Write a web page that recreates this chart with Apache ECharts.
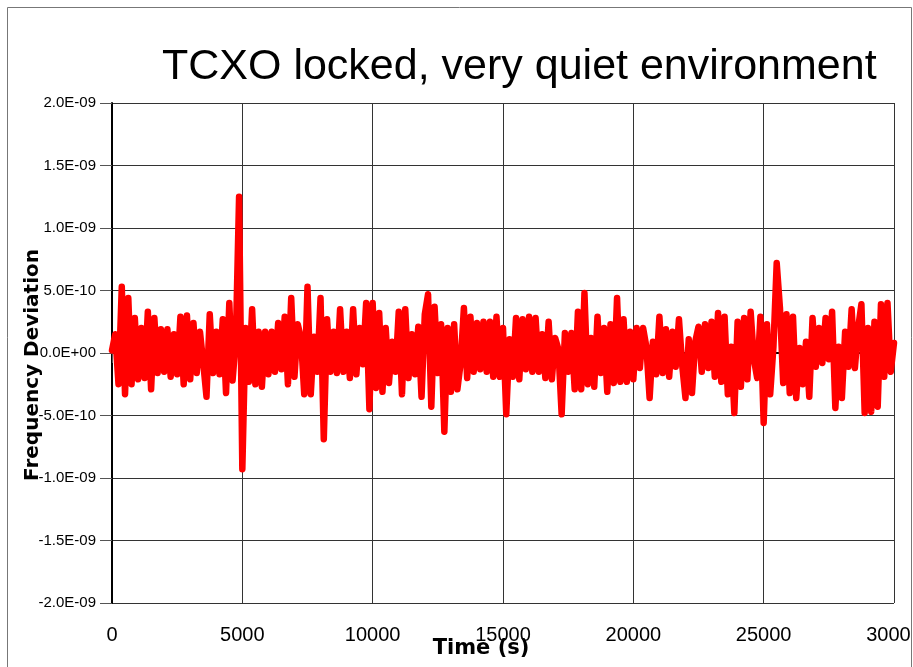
<!DOCTYPE html>
<html>
<head>
<meta charset="utf-8">
<script src="https://cdn.jsdelivr.net/npm/echarts@6/dist/echarts.min.js"></script>
<style>
  html, body { margin: 0; padding: 0; background: #fff; }
  #chart { width: 913px; height: 667px; }
</style>
</head>
<body>
<div id="chart"></div>
<script>
// sample spacing of the record, seconds
const SAMPLE_STEP = 125;
// values in units of 1e-10 (fractional frequency)
const UNIT = 1e-10;

// 0 - 4875 s
const seg0 = [0.2, 1.5, -2.5, 5.3, -3.3, 4.4, -2.5, 2.8, -2.1, 2.0,
              -2.0, 3.3, -2.9, 2.8, -1.6, 1.9, -1.5, 1.9, -1.9, 1.5,
              -1.7, 2.9, -2.5, 3.0, -2.1, 2.4, -1.6, 1.7, -0.8, -3.5,
              3.1, -1.6, 1.7, -1.7, 2.7, -3.2, 4.0, -2.2, 1.0, 12.5];
// 5000 - 9875 s
const seg1 = [-9.3, 2.0, -2.3, 3.5, -2.5, 1.7, -2.7, 1.7, -1.7, 1.7,
              -1.5, 2.4, -1.3, 2.9, -2.5, 4.4, -1.9, 2.3, 1.2, -3.3,
              5.3, -3.3, 1.3, -1.5, 4.4, -6.9, 2.7, -1.5, 1.7, -1.6,
              3.5, -1.5, 1.7, -2.0, 3.5, -1.7, 2.0, -0.9, 4.0, -4.5];
// 10000 - 14875 s
const seg2 = [4.0, -2.8, 3.2, -3.1, 2.0, -2.4, 0.9, -1.5, 3.3, -3.3,
              3.5, -2.0, 1.5, -1.7, 2.1, -3.5, 3.1, 4.7, -4.3, 3.7,
              -1.6, 2.3, -6.3, 2.0, -3.1, 2.3, -2.9, -0.8, 3.6, -2.0,
              2.9, -1.5, 2.4, -1.3, 2.5, -1.5, 2.5, -1.9, 2.9, -1.9];
// 15000 - 19875 s
const seg3 = [2.0, -4.9, 1.1, -1.9, 2.8, -2.1, 2.7, -1.3, 2.9, -1.5,
              2.8, -1.5, 1.5, -2.0, 2.5, -2.1, 1.2, 0.3, -4.9, 1.6,
              -1.5, 1.6, -2.9, 3.3, -2.9, 4.8, -2.5, 1.2, -2.7, 2.9,
              -1.6, 2.0, -3.1, 2.3, -2.4, 4.4, -2.3, 2.7, -2.3, 1.7];
// 20000 - 24875 s
const seg4 = [-2.1, 2.0, -1.2, 2.0, 0.5, -3.6, 0.9, -1.7, 2.9, -1.6,
              1.9, -1.9, 1.7, -1.1, 2.7, -1.0, -3.6, 1.1, -3.2, 0.9,
              2.1, -1.5, 2.3, -1.2, 2.5, -1.9, 3.2, -2.3, 2.9, -3.3,
              0.5, -4.8, 2.5, -2.7, 2.8, -2.1, 3.3, -0.5, -2.0, 2.9];
// 25000 - 30000 s
const seg5 = [-5.6, 2.3, -3.3, 0.5, 7.2, 3.6, -2.4, 3.1, -3.2, 2.9,
              -3.6, 0.4, -2.5, 0.9, -3.5, 2.8, -1.1, 2.0, -0.8, 2.8,
              -0.5, 3.3, -4.4, 0.5, -3.6, 1.7, -1.1, 3.5, -1.2, 2.0,
              3.9, -4.8, 2.0, -4.7, 2.5, -4.3, 3.9, -1.9, 4.0, -1.5,
              0.8];

const deviation = [].concat(seg0, seg1, seg2, seg3, seg4, seg5);
const seriesData = deviation.map((v, i) => [i * SAMPLE_STEP, v]);

// 2.0E-09 style labels
function sciLabel(v) {
  if (Math.abs(v) < 1e-9) return '0.0E+00';
  const parts = (v * UNIT).toExponential(1).split('e');
  const sign = parts[1][0] === '-' ? '-' : '+';
  let exp = parts[1].replace(/[+-]/, '');
  if (exp.length < 2) exp = '0' + exp;
  return parts[0] + 'E' + sign + exp;
}

const chart = echarts.init(document.getElementById('chart'));

const option = {
  backgroundColor: '#fff',
  animation: false,
  title: {
    text: 'TCXO locked, very quiet environment',
    left: 157,
    top: 41,
    textStyle: {
      fontFamily: 'Liberation Sans',
      fontSize: 43,
      fontWeight: 'normal',
      color: '#000'
    }
  },
  grid: { left: 112, right: 19, top: 103, bottom: 64, outerBoundsMode: 'none' },
  xAxis: {
    type: 'value',
    min: 0,
    max: 30000,
    interval: 5000,
    axisLine: { show: true, lineStyle: { color: '#000', width: 2 } },
    axisTick: { show: true, length: 10, lineStyle: { color: '#555' } },
    splitLine: { show: true, lineStyle: { color: '#333', width: 1 } },
    axisLabel: {
      margin: 22,
      fontFamily: 'Liberation Sans',
      fontSize: 20,
      color: '#000',
      showMaxLabel: true,
      alignMinLabel: 'center',
      alignMaxLabel: 'center',
      formatter: v => String(v)
    }
  },
  yAxis: {
    type: 'value',
    min: -20,
    max: 20,
    interval: 5,
    axisLine: { show: true, onZero: false, lineStyle: { color: '#000', width: 2 } },
    axisTick: { show: true, length: 12, lineStyle: { color: '#555' } },
    splitLine: { show: true, lineStyle: { color: '#333', width: 1 } },
    axisLabel: {
      margin: 16,
      fontFamily: 'Liberation Sans',
      fontSize: 15,
      color: '#000',
      formatter: sciLabel
    }
  },
  graphic: [
    {
      // the outer frame cuts the last tick label, as in the original
      type: 'rect',
      z: 200,
      shape: { x: 911.5, y: 0, width: 4, height: 667 },
      style: { fill: '#fff' }
    },
    {
      type: 'rect',
      z: 201,
      shape: { x: 7.5, y: 7.5, width: 904, height: 680 },
      style: { fill: 'none', stroke: '#777', lineWidth: 1 }
    },
    {
      type: 'text',
      z: 100,
      x: 33,
      y: 365,
      rotation: Math.PI / 2,
      style: {
        text: 'Frequency Deviation',
        font: 'bold 20px "DejaVu Sans"',
        fill: '#000',
        align: 'center',
        verticalAlign: 'middle',
        textAlign: 'center',
        textVerticalAlign: 'middle'
      }
    },
    {
      type: 'text',
      z: 100,
      x: 481,
      y: 649,
      style: {
        text: 'Time (s)',
        font: 'bold 21px "DejaVu Sans"',
        fill: '#000',
        align: 'center',
        verticalAlign: 'middle',
        textAlign: 'center',
        textVerticalAlign: 'middle'
      }
    }
  ],
  series: [{
    type: 'line',
    data: seriesData,
    showSymbol: false,
    symbol: 'none',
    lineStyle: { color: '#ff0000', width: 6.5, cap: 'round', join: 'round' },
    clip: true
  }]
};

chart.setOption(option);
</script>
</body>
</html>
